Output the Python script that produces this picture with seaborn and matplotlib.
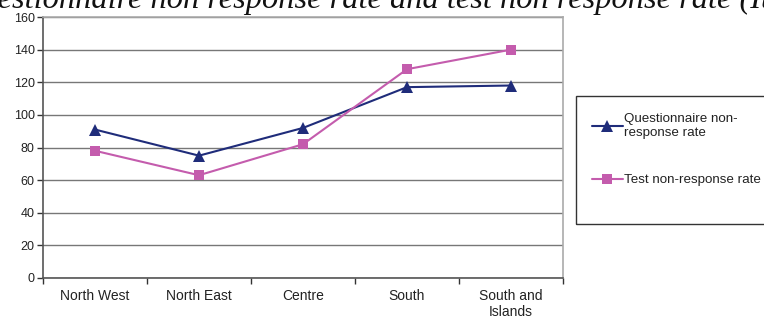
import matplotlib
matplotlib.use("Agg")
import matplotlib.pyplot as plt
import matplotlib.patches as mpatches
import seaborn as sns
import pandas as pd
import numpy as np

categories = ["North West", "North East", "Centre", "South", "South and\nIslands"]
questionnaire = [91, 75, 92, 117, 118]
test = [78, 63, 82, 128, 140]
series_names = ["Questionnaire non-\nresponse rate", "Test non-response rate"]
title = "Questionnaire non response rate and test non response rate (Italy)"

navy = "#1F2C7A"
pink = "#C45CAD"

sns.set_theme(style="white")
plt.rcParams["font.family"] = ["Liberation Sans", "DejaVu Sans"]

df = pd.DataFrame({
    "x": list(range(len(categories))) * 2,
    "value": questionnaire + test,
    "series": [series_names[0]] * len(categories) + [series_names[1]] * len(categories),
})

W, H = 764, 322
fig = plt.figure(figsize=(W / 100, H / 100), dpi=100)
ax = fig.add_axes([43 / W, 1 - 278 / H, 520 / W, 261 / H])

sns.lineplot(
    data=df, x="x", y="value", hue="series", style="series",
    palette={series_names[0]: navy, series_names[1]: pink},
    markers={series_names[0]: "^", series_names[1]: "s"},
    dashes=False, linewidth=1.5, ax=ax, legend=True,
    markeredgewidth=0,
)
for line in ax.lines:
    if line.get_marker() == "^":
        line.set_markersize(9)
    elif line.get_marker() == "s":
        line.set_markersize(7)

ax.set_xlim(-0.5, len(categories) - 0.5)
ax.set_ylim(0, 160)
ax.set_yticks(np.arange(0, 161, 20))
ax.set_xticks(np.arange(-0.5, len(categories), 1.0))
ax.set_xticklabels([])
ax.set_xticks(np.arange(len(categories)), minor=True)
ax.set_xticklabels(categories, minor=True, linespacing=1.2)
ax.tick_params(axis="x", which="minor", length=0, pad=8, labelsize=10, colors="#222222")
ax.tick_params(axis="x", which="major", length=4, width=1, color="#333333", direction="out", bottom=True)
ax.tick_params(axis="y", length=4, width=1, color="#333333", direction="out", left=True,
               labelsize=9, labelcolor="#222222", pad=2)
ax.set_xlabel("")
ax.set_ylabel("")
ax.yaxis.grid(True, color="#777777", linewidth=1)
ax.set_axisbelow(True)
for s in ["left", "bottom"]:
    ax.spines[s].set_color("#555555")
    ax.spines[s].set_linewidth(1.2)
for s in ["top", "right"]:
    ax.spines[s].set_color("#AAAAAA")
    ax.spines[s].set_linewidth(1.2)

handles, labels = ax.get_legend_handles_labels()
if ax.get_legend():
    ax.get_legend().remove()
leg = fig.legend(
    handles, labels, loc="upper left",
    bbox_to_anchor=(592 / W, 1 - 113 / H), bbox_transform=fig.transFigure,
    frameon=False, fontsize=9.6, labelspacing=2.65,
    handlelength=2.3, handletextpad=0.12, borderpad=0, borderaxespad=0,
)
for t in leg.get_texts():
    t.set_color("#222222")
fig.patches.append(mpatches.Rectangle((576 / W, 1 - 224 / H), 220 / W, 128 / H,
                                      transform=fig.transFigure, fill=False,
                                      edgecolor="#333333", linewidth=1.0))

# Title (clipped at top-left as in reference)
fig.canvas.draw()
renderer = fig.canvas.get_renderer()
fs_title = 23.3
probe = fig.text(0, 0, "Qu", fontsize=fs_title, family="Liberation Serif", style="italic")
w_qu = probe.get_window_extent(renderer).width
probe.remove()
fig.text((-w_qu - 2) / W, 1 - 8 / H, title, fontsize=fs_title,
         family="Liberation Serif", style="italic", ha="left", va="baseline", color="#111111")

fig.savefig("out.png", dpi=100)
